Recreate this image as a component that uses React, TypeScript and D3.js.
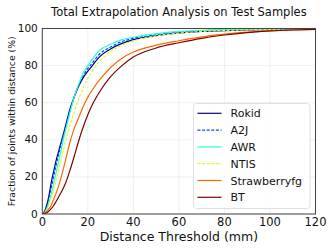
import React from 'react';
import { scaleLinear, line, curveMonotoneX } from 'd3';

const thresholds = [0, 1, 2, 3, 4, 5, 6, 8, 10, 12, 14, 16, 18, 20, 22, 25, 30, 35, 40, 50, 60, 70, 80, 90, 100, 110, 120];

const rokid = [0, 1.5, 5, 10.5, 17.5, 23, 28.5, 37.5, 46.5, 56, 63, 69, 73.5, 77, 80, 84.6, 89, 92, 94, 96.2, 97.6, 98.4, 98.9, 99.2, 99.5, 99.7, 99.8];
const a2j = [0, 1.2, 4, 9, 14.5, 20.5, 26, 36, 46, 55, 63, 69.5, 74.5, 78.5, 81.5, 86, 90, 93, 94.7, 96.6, 98, 98.8, 99.2, 99.4, 99.6, 99.8, 99.9];
const awr = [0, 0.8, 3, 6.5, 11, 16.5, 22, 33, 44, 54, 63, 70, 76, 80, 83.5, 88, 91.5, 94, 95.3, 97.2, 98.4, 99, 99.4, 99.6, 99.7, 99.8, 99.9];
const ntis = [0, 0.6, 2.5, 5.5, 9, 13.5, 18, 28, 38, 47, 55, 62, 68, 73, 77, 82, 87.5, 91, 93.3, 96, 97.5, 98.4, 99, 99.3, 99.5, 99.7, 99.8];
const strawberryfg = [0, 0.4, 1.5, 3, 5, 8, 11, 18.5, 28, 38, 46, 52, 58, 63, 67, 72, 79, 84, 87.3, 91, 93.4, 95.5, 97, 98, 98.7, 99.2, 99.5];
const bt = [0, 0.2, 0.7, 1.7, 3, 4.6, 6.6, 11, 16, 23, 31, 39.5, 47, 53.5, 59, 65.5, 74, 80, 84.6, 89.5, 92.3, 94.7, 96.5, 97.8, 98.7, 99.2, 99.5];

const seriesNames = ['Rokid', 'A2J', 'AWR', 'NTIS', 'Strawberryfg', 'BT'];
const seriesValues = [rokid, a2j, awr, ntis, strawberryfg, bt];
const colors = ['#00007f', '#004cff', '#29ffce', '#ceff29', '#ff6800', '#7f0000'];
const dashes = [null, '3,1.6', null, '3,1.6', null, null];

const xTicks = [0, 20, 40, 60, 80, 100, 120];
const yTicks = [0, 20, 40, 60, 80, 100];

const W = 332, H = 249;
const left = 42.3, right = 315.5, top = 28.5, bottom = 214;

export default function App() {
  const x = scaleLinear().domain([0, 120]).range([left, right]);
  const y = scaleLinear().domain([0, 100]).range([bottom, top]);
  const font = 'DejaVu Sans, sans-serif';

  const lg = { x: 193.5, y: 103.5, w: 116.5, h: 105, row: 16.8 };

  return (
    <svg width={W} height={H} style={{ position: 'absolute', left: 0, top: 0 }} fontFamily={font}>
      <rect width={W} height={H} fill="#fff" />
      <text x={(left + right) / 2} y={16} textAnchor="middle" fontSize={11.5} fill="#111">
        Total Extrapolation Analysis on Test Samples
      </text>
      {xTicks.map(t => (
        <line key={'gx' + t} x1={x(t)} x2={x(t)} y1={top} y2={bottom} stroke="#ebebeb" strokeWidth={0.8} />
      ))}
      {yTicks.map(t => (
        <line key={'gy' + t} x1={left} x2={right} y1={y(t)} y2={y(t)} stroke="#ebebeb" strokeWidth={0.8} />
      ))}
      <defs>
        <clipPath id="plot">
          <rect x={left} y={top - 2} width={right - left} height={bottom - top + 2} />
        </clipPath>
      </defs>
      <g clipPath="url(#plot)">
        {seriesValues.map((vals, i) => {
          const gen = line<number>()
            .x((_, j) => x(thresholds[j]))
            .y(v => y(v))
            .curve(curveMonotoneX);
          return (
            <path key={seriesNames[i]} d={gen(vals) || ''} fill="none" stroke={colors[i]}
              strokeWidth={1.2} strokeDasharray={dashes[i] || undefined} />
          );
        })}
      </g>
      <rect x={left} y={top} width={right - left} height={bottom - top} fill="none" stroke="#444" strokeWidth={1} />
      {xTicks.map(t => (
        <text key={'tx' + t} x={x(t)} y={226} textAnchor="middle" fontSize={11.5} fill="#111">{t}</text>
      ))}
      {yTicks.map(t => (
        <text key={'ty' + t} x={left - 4.5} y={y(t) + 3.5} textAnchor="end" fontSize={10.5} fill="#111">{t}</text>
      ))}
      <text x={(left + right) / 2} y={241} textAnchor="middle" fontSize={12.5} fill="#111">
        Distance Threshold (mm)
      </text>
      <text transform={`translate(14.5, ${(top + bottom) / 2}) rotate(-90)`} textAnchor="middle" fontSize={9.3} fill="#111">
        Fraction of joints within distance (%)
      </text>
      <g>
        <rect x={lg.x} y={lg.y} width={lg.w} height={lg.h} rx={3} fill="#fff" fillOpacity={0.85} stroke="#d8d8d8" strokeWidth={0.8} />
        {seriesNames.map((name, i) => {
          const cy = 113.3 + i * lg.row;
          return (
            <g key={name}>
              <line x1={197.5} x2={221.5} y1={cy} y2={cy} stroke={colors[i]} strokeWidth={1.2}
                strokeDasharray={dashes[i] || undefined} />
              <text x={230.5} y={cy + 4} fontSize={11} fill="#111">{name}</text>
            </g>
          );
        })}
      </g>
    </svg>
  );
}
